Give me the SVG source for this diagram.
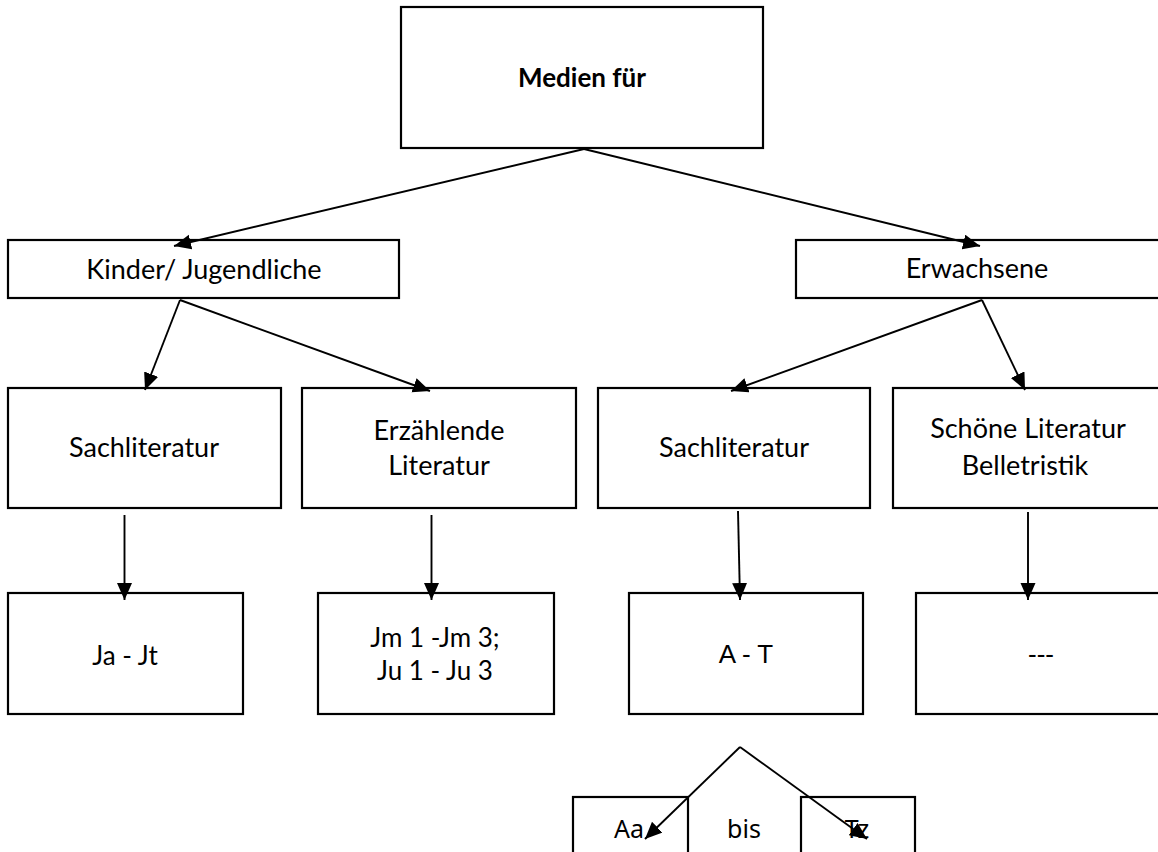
<svg xmlns="http://www.w3.org/2000/svg" width="1158" height="852" viewBox="0 0 1158 852">
<defs>
<style>
.box{fill:#fff;stroke:#000;stroke-width:2.2}
.t{font-family:Lato,"Open Sans",sans-serif;font-size:27px;fill:#000;text-anchor:middle}
.s{font-size:26px}
.b{font-weight:bold;font-size:26px}
.a{font-family:"Liberation Sans",Arial,sans-serif;font-size:26px;fill:#000;text-anchor:middle}
.n{font-family:"Noto Sans","Open Sans",sans-serif;font-size:25px;fill:#000;text-anchor:middle}
.c{stroke:#000;stroke-width:1.9;fill:none;marker-end:url(#ah)}
</style>
<marker id="ah" markerUnits="userSpaceOnUse" markerWidth="18" markerHeight="16" refX="17" refY="7.5" orient="auto">
<path d="M0,0 L17,7.5 L0,15 z" fill="#000"/>
</marker>
</defs>
<rect width="1158" height="852" fill="#fff"/>
<g id="medien"><rect class="box" x="401" y="7" width="362" height="141"/><text class="t b" x="582" y="87">Medien für</text></g>
<g id="kinder"><rect class="box" x="8" y="240" width="391" height="58"/><text class="t" x="204" y="279">Kinder/ Jugendliche</text></g>
<g id="erwachsene"><rect class="box" x="796" y="240" width="380" height="58"/><text class="t" x="977" y="278">Erwachsene</text></g>
<g id="sach-kj"><rect class="box" x="8" y="388" width="273" height="120"/><text class="t" x="144" y="457">Sachliteratur</text></g>
<g id="erzaehlende"><rect class="box" x="302" y="388" width="274" height="120"/><text class="t" x="439" y="440">Erzählende</text><text class="t" x="439" y="475">Literatur</text></g>
<g id="sach-erw"><rect class="box" x="598" y="388" width="272" height="120"/><text class="t" x="734" y="457">Sachliteratur</text></g>
<g id="schoene"><rect class="box" x="893" y="388" width="280" height="120"/><text class="t" x="1028" y="438">Schöne Literatur</text><text class="t" x="1025" y="475">Belletristik</text></g>
<g id="ja-jt"><rect class="box" x="8" y="593" width="235" height="121"/><text class="t s" x="125" y="665">Ja - Jt</text></g>
<g id="jm-ju"><rect class="box" x="318" y="593" width="236" height="121"/><text class="t s" x="435" y="647">Jm 1 -Jm 3;</text><text class="t s" x="435" y="680">Ju 1 - Ju 3</text></g>
<g id="a-t"><rect class="box" x="629" y="593" width="234" height="121"/><text class="a" x="746" y="663">A - T</text></g>
<g id="dashes"><rect class="box" x="916" y="593" width="260" height="121"/><text class="a" x="1041" y="663">---</text></g>
<g id="aa"><rect class="box" x="573" y="797" width="115" height="80"/><text class="n" x="629" y="838">Aa</text></g>
<g id="bis"><text class="n" x="744" y="838">bis</text></g>
<g id="tz"><rect class="box" x="801" y="797" width="114" height="80"/><text class="n" x="857" y="838">Tz</text></g>
<g id="connectors">
<line class="c" x1="584" y1="149" x2="174" y2="246"/>
<line class="c" x1="584" y1="149" x2="980" y2="246"/>
<line class="c" x1="180" y1="300" x2="145" y2="390"/>
<line class="c" x1="180" y1="300" x2="430" y2="391"/>
<line class="c" x1="982" y1="300" x2="731" y2="391"/>
<line class="c" x1="982" y1="300" x2="1025" y2="390"/>
<line class="c" x1="124.5" y1="515" x2="124.5" y2="600"/>
<line class="c" x1="431.5" y1="515" x2="431.5" y2="600"/>
<line class="c" x1="738" y1="511" x2="740" y2="600"/>
<line class="c" x1="1028" y1="512" x2="1028" y2="600"/>
<line class="c" x1="740" y1="747" x2="645" y2="839"/>
<line class="c" x1="740" y1="747" x2="867" y2="839"/>
</g>
</svg>
